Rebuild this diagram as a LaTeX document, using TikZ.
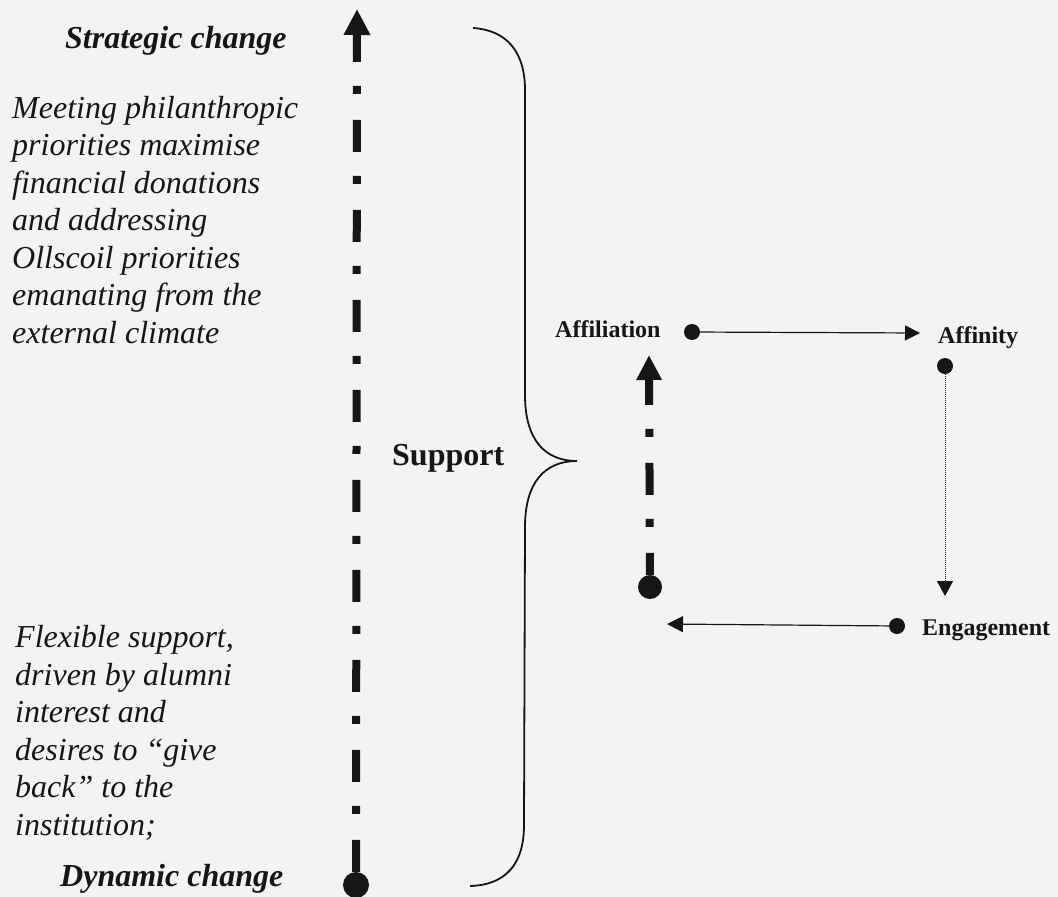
\documentclass[tikz,border=0pt]{standalone}
\usepackage{fontspec}
\setmainfont{Liberation Serif}
\usetikzlibrary{arrows.meta}
\definecolor{ink}{RGB}{22,22,22}
\definecolor{paper}{RGB}{243,243,241}
\begin{document}
\begin{tikzpicture}[x=1pt,y=-1pt,
  txt/.style={inner sep=0pt,anchor=base west,text=ink},
  ital/.style={txt,font=\fontsize{32}{37.5}\selectfont\itshape,align=left},
  pole/.style={txt,font=\fontsize{32}{38}\selectfont\bfseries\itshape},
  stage/.style={txt,font=\fontsize{24}{28}\selectfont\bfseries},
  bigdot/.style={circle,fill=ink,inner sep=0pt,minimum size=#1},
  spine/.style={line width=8pt,draw=ink,line cap=butt,
    dash pattern=on 32pt off 26pt on 8pt off 24pt,
    -{Triangle[width=25pt,length=26pt]}},
  flow/.style={line width=1.2pt,draw=ink,-{Triangle[width=15pt,length=15pt]}},
]
% page
\fill[paper] (0,0) rectangle (1058,897);
\useasboundingbox (0,0) rectangle (1058,897);

% left-hand labels (a multi-line node sits on the baseline of its last line)
\node[pole] (strategic) at (65,48) {Strategic change};
\node[ital] (upper) at (12,343) {Meeting philanthropic\\priorities maximise\\financial donations\\and addressing\\Ollscoil priorities\\emanating from the\\external climate};
\node[ital] (lower) at (15,835) {Flexible support,\\driven by alumni\\interest and\\desires to “give\\back” to the\\institution;};
\node[pole] (dynamic) at (60,886) {Dynamic change};

% main change axis
\node[bigdot=26pt] (base) at (356,885) {};
\coordinate (top) at (357,9);
\draw[spine] (base) -- (top);

% curly brace and label
\draw[ink,line width=1.8pt]
  (473,28) .. controls (505,30) and (525,50) .. (525,90)
  -- (525,395) .. controls (525,440) and (545,461) .. (577,461)
  .. controls (545,461) and (525,482) .. (525,527)
  -- (524,825) .. controls (524,865) and (505,885) .. (470,886);
\node[txt,font=\fontsize{32}{38}\selectfont\bfseries] (support) at (392,465) {Support};

% cycle
\node[stage] (affiliation) at (555,337) {Affiliation};
\node[stage] (affinity) at (938,343) {Affinity};
\node[stage] (engagement) at (922,635) {Engagement};

\node[bigdot=16pt] (d1) at (692,332) {};
\node[bigdot=16pt] (d2) at (945,366) {};
\node[bigdot=16pt] (d3) at (897,626) {};
\node[bigdot=24pt] (d4) at (650,587) {};

\coordinate (t1) at (920,333);
\coordinate (t2) at (945,596);
\coordinate (t3) at (667,624);
\coordinate (t4) at (649,355);

\draw[flow] (d1) -- (t1);
\draw[flow,line width=1pt,densely dotted,-{Triangle[width=16pt,length=15pt]}] (d2) -- (t2);
\draw[flow,-{Triangle[width=16pt,length=16pt]}] (d3) -- (t3);
\draw[spine,dash phase=10pt,-{Triangle[width=24pt,length=25pt]}] (d4) -- (t4);
\end{tikzpicture}
\end{document}
